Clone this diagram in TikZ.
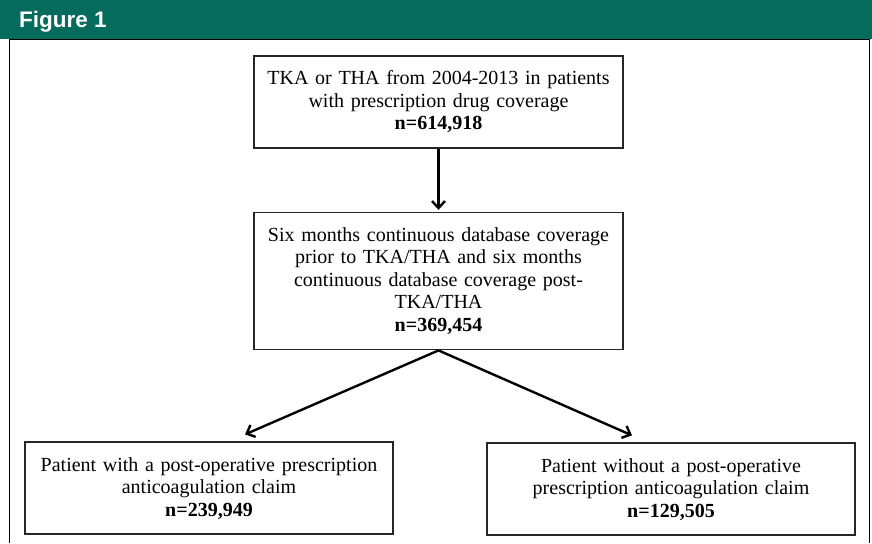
\documentclass[tikz,border=0pt]{standalone}
\usepackage{fontspec}
\setmainfont{Liberation Serif}
\newfontfamily\headfont{Liberation Sans}
\usetikzlibrary{arrows.meta, positioning}
\definecolor{figteal}{RGB}{5,107,92}

\begin{document}
\begin{tikzpicture}[x=1pt, y=-1pt, node distance=63pt,
    box/.style={draw=black!85, line width=1.6pt, fill=white, align=center,
      font=\fontsize{20}{22.5}\selectfont, minimum height=92pt, inner sep=3pt},
    wide/.style={box, minimum width=369pt, text width=362pt},
    arr/.style={-{Straight Barb[length=7pt, width=13pt, line width=2.4pt]}, line width=2.4pt}]
    % frame and header
    \useasboundingbox (0,0) rectangle (872,543);
    \fill[figteal] (0,0) rectangle (872,39);
    \draw[line width=1.2pt] (9.5,543) -- (9.5,39.5) -- (869.5,39.5) -- (869.5,543);
    \node[anchor=base west, text=white, inner sep=0pt,
      font=\headfont\bfseries\fontsize{22.5}{26}\selectfont] (title) at (19,28) {Figure 1};
    % boxes
    \node[wide] (start) at (438.5,102) {TKA or THA from 2004-2013 in patients\\
      with prescription drug coverage\\ \textbf{n=614,918}};
    \node[wide, minimum height=137pt, below=63pt of start] (cover) {Six months continuous database coverage\\
      prior to TKA/THA and six months\\ continuous database coverage post-\\ TKA/THA\\ \textbf{n=369,454}};
    \node[wide, minimum width=366pt, below=91pt of cover, xshift=-229.5pt] (with) {Patient with a post-operative prescription\\
      anticoagulation claim\\ \textbf{n=239,949}};
    \node[wide, minimum width=368pt, below=92pt of cover, xshift=232.5pt] (without) {Patient without a post-operative\\
      prescription anticoagulation claim\\ \textbf{n=129,505}};
    % arrows
    \draw[arr, shorten >=2pt] (start) -- (cover);
    \draw[arr] (cover.south) -- ([xshift=36pt, yshift=7pt]with.north);
    \draw[arr] (cover.south) -- ([xshift=-39pt, yshift=7pt]without.north);
  \end{tikzpicture}
\end{document}
